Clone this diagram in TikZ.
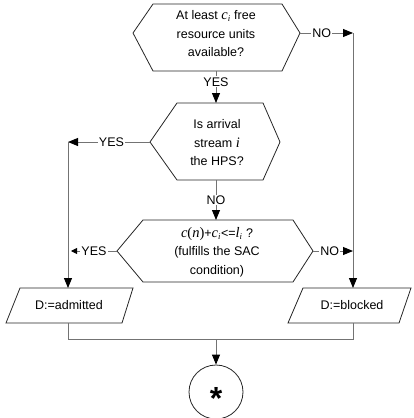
\documentclass[tikz,border=0pt]{standalone}
\usepackage{fontspec}
\setmainfont{Liberation Sans}
\newfontfamily\tms{Liberation Serif}
\newcommand\mi[1]{{\tms\itshape\fontsize{14.5}{18.5}\selectfont #1}}
\newcommand\mup[1]{{\tms\fontsize{14.5}{18.5}\selectfont #1}}
\newcommand\msub[1]{\textsubscript{\tms\itshape #1}}
\usetikzlibrary{arrows.meta}
\begin{document}
\begin{tikzpicture}[x=1pt,y=-1pt,
  font=\fontsize{12.5}{18.5}\selectfont,
  shapeline/.style={draw=black!85, line width=0.8pt, line join=miter},
  conn/.style={draw=black!55, line width=0.9pt},
  arr/.style={conn, -{Triangle[length=10pt,width=8pt,color=black]}},
  sarr/.style={conn, -{Triangle[length=6pt,width=6pt,color=black]}},
  lbl/.style={fill=white, inner sep=1pt},
  txt/.style={align=center, inner sep=0pt}]
\useasboundingbox (0,0) rectangle (414,418);
% hexagon 1
\coordinate (h1l) at (133,33); \coordinate (h1r) at (300,33);
\coordinate (h1b) at (216,71);
\draw[shapeline] (h1l) -- (153,4) -- (282,4) -- (h1r) -- (282,71) -- (153,71) -- cycle;
\node[txt] (t1) at (216,34) {At least \mi{c}\msub{i} free\\resource units\\available?};
% hexagon 2
\coordinate (h2t) at (216,103); \coordinate (h2b) at (216,180);
\coordinate (h2l) at (150,142); \coordinate (h2r) at (280,142);
\draw[shapeline] (h2l) -- (177,103) -- (263,103) -- (h2r) -- (263,180) -- (177,180) -- cycle;
\node[txt] (t2) at (217,143) {Is arrival\\stream \mi{i}\\the HPS?};
% hexagon 3
\coordinate (h3t) at (216,220);
\coordinate (h3l) at (117,251); \coordinate (h3r) at (313,251);
\draw[shapeline] (h3l) -- (143,220) -- (293,220) -- (h3r) -- (293,282) -- (143,282) -- cycle;
\node[txt] (t3) at (217,252) {\mi{c}\mup{(}\mi{n}\mup{)}+\mi{c}\msub{i}<=\mi{l}\msub{i} ?\\(fulfills the SAC\\condition)};
% parallelograms
\coordinate (adt) at (68,288); \coordinate (adb) at (68,323);
\draw[shapeline] (6,323) -- (20,288) -- (133,288) -- (122,323) -- cycle;
\node[txt] (ad) at (69,305) {D:=admitted};
\coordinate (blt) at (353,288); \coordinate (blb) at (353,323);
\draw[shapeline] (288,323) -- (303,288) -- (411,288) -- (399,323) -- cycle;
\node[txt] (bl) at (352,305) {D:=blocked};
% end circle
\node[draw=black!85, line width=0.8pt, circle, minimum size=54pt, inner sep=0pt] (end) at (216,392) {};
\node[inner sep=0pt, font=\fontsize{32}{32}\bfseries\selectfont] (star) at (216,398) {*};
% connectors
\coordinate (rt) at (353,33);
\coordinate (lt) at (68,142);
\coordinate (l3) at (71,251);
\coordinate (r3) at (353,251);
\coordinate (jl) at (68,339); \coordinate (jr) at (353,339); \coordinate (jm) at (216,339);
\draw[arr] (h1b) -- node[lbl, pos=0.34] (yes1) {YES} (h2t);
\draw[arr] (h1r) -- node[lbl, pos=0.41] (no1) {NO} (rt);
\draw[arr] (h2l) -- node[lbl, pos=0.47] (yes2) {YES} (lt);
\draw[arr] (h2b) -- node[lbl, pos=0.5] (no2) {NO} (h3t);
\draw[sarr] (h3l) -- node[lbl, pos=0.5] (yes3) {YES} (l3);
\draw[arr] (h3r) -- node[lbl, pos=0.42] (no3) {NO} (r3);
\draw[arr] (lt) -- (adt);
\draw[arr] (rt) -- (blt);
\draw[conn] (adb) -- (jl) -- (jr) -- (blb);
\draw[arr] (jm) -- (end);
\end{tikzpicture}
\end{document}
